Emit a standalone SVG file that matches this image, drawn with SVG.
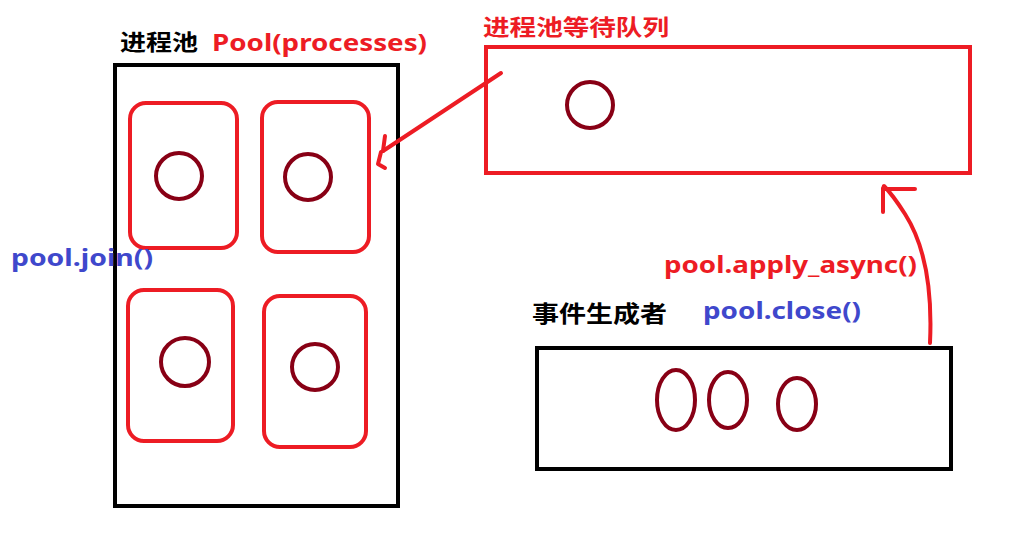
<svg xmlns="http://www.w3.org/2000/svg" width="1018" height="540" viewBox="0 0 1018 540">
<style>
.t{font-family:"Noto Sans","Noto Sans CJK SC",sans-serif;font-weight:bold;}
.cj{font-family:"Noto Sans CJK SC",sans-serif;font-weight:bold;}
.red{fill:#ED1C24;}
.blue{fill:#3F48CC;}
.blk{fill:#000;}
.box{fill:none;stroke:#000;stroke-width:4;}
.rbox{fill:none;stroke:#ED1C24;stroke-width:4;}
.cir{fill:none;stroke:#880015;stroke-width:4;}
.con{fill:none;stroke:#ED1C24;stroke-width:4;stroke-linecap:round;stroke-linejoin:round;}
</style>
<rect width="1018" height="540" fill="#fff"/>
<g id="pool">
<rect class="box" x="115" y="65" width="283" height="441"/>
<text class="cj blk" x="120" y="50" font-size="22" textLength="78" lengthAdjust="spacingAndGlyphs">进程池</text>
<text class="t red" x="212" y="51" font-size="24" textLength="215" lengthAdjust="spacingAndGlyphs">Pool(processes)</text>
</g>
<g id="worker1">
<rect class="rbox" x="130" y="103" width="107" height="145" rx="16"/>
<circle class="cir" cx="179" cy="176" r="23"/>
</g>
<g id="worker2">
<rect class="rbox" x="262" y="102" width="107" height="150" rx="16"/>
<circle class="cir" cx="308" cy="177" r="23"/>
</g>
<g id="worker3">
<rect class="rbox" x="128" y="290" width="105" height="151" rx="16"/>
<circle class="cir" cx="185" cy="362" r="24"/>
</g>
<g id="worker4">
<rect class="rbox" x="264" y="296" width="102" height="151" rx="16"/>
<circle class="cir" cx="315" cy="367" r="23"/>
</g>
<g id="join">
<text class="t blue" x="11" y="266" font-size="23" textLength="142" lengthAdjust="spacingAndGlyphs">pool.join()</text>
</g>
<g id="queue">
<rect class="rbox" x="486" y="47" width="484" height="126"/>
<circle class="cir" cx="590" cy="105" r="23"/>
<text class="cj red" x="483" y="35" font-size="22" textLength="186" lengthAdjust="spacingAndGlyphs">进程池等待队列</text>
</g>
<g id="producer">
<rect class="box" x="537" y="348" width="414" height="121"/>
<ellipse class="cir" cx="676" cy="400" rx="19" ry="30"/>
<ellipse class="cir" cx="728" cy="400" rx="19" ry="28"/>
<ellipse class="cir" cx="797" cy="404" rx="19" ry="26"/>
<text class="cj blk" x="532" y="322" font-size="23" textLength="135" lengthAdjust="spacingAndGlyphs">事件生成者</text>
<text class="t blue" x="703" y="319" font-size="24" textLength="158" lengthAdjust="spacingAndGlyphs">pool.close()</text>
</g>
<g id="connectors">
<path class="con" d="M501 73 L383 151"/>
<path class="con" d="M385 136 L383 151 M381 152 L378 164 L385 168"/>
<path class="con" d="M930 343 C932 300 928 250 905 214 C896 200 890 192 884 186"/>
<path class="con" d="M883 188 L883 212 M885 189 L915 189"/>
<text class="t red" x="664" y="273" font-size="24" textLength="253" lengthAdjust="spacingAndGlyphs">pool.apply_async()</text>
</g>
</svg>
